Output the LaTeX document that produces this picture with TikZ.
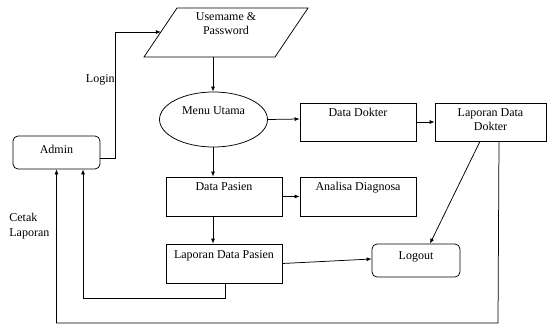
\documentclass[tikz,border=0pt]{standalone}
\usepackage{fontspec}
\setmainfont{Liberation Serif}
\usetikzlibrary{arrows.meta,shapes.geometric}
\begin{document}
\begin{tikzpicture}[x=1pt,y=-1pt,
  font=\fontsize{12}{14.5}\selectfont,
  every path/.style={line width=0.75pt},
  box/.style={draw, rectangle, inner sep=0pt},
  rbox/.style={draw, rectangle, rounded corners=5pt, inner sep=0pt},
  lbl/.style={anchor=north, align=center, inner sep=0pt},
  arr/.style={-{Latex[length=5pt,width=4pt]}}]
\useasboundingbox (0,0) rectangle (547,327);
% parallelogram
\draw (144,57) -- (177,8) -- (308,8) -- (275,57) -- cycle;
\coordinate (pwin) at (160.8,32);
\coordinate (pwout) at (213,57);
\node[lbl] (pwt) at (226,12) {Usemame \&\\Password};
% nodes
\node[rbox, minimum width=87pt, minimum height=33pt] (admin) at (56.5,152.5) {};
\node[anchor=center] (admint) at (56.5,149) {Admin};
\node[draw, ellipse, minimum width=108pt, minimum height=55pt, inner sep=0pt] (menu) at (213.5,119.5) {};
\node[anchor=center] (menut) at (213.5,111) {Menu Utama};
\node[box, minimum width=116pt, minimum height=38pt] (dd) at (358,122) {};
\node[lbl] (ddt) at (358,108) {Data Dokter};
\node[box, minimum width=111pt, minimum height=38pt] (ldd) at (490.5,122) {};
\node[lbl] (lddt) at (490.5,108) {Laporan Data\\Dokter};
\node[box, minimum width=116pt, minimum height=39pt] (dp) at (224,196.5) {};
\node[lbl] (dpt) at (224,182) {Data Pasien};
\node[box, minimum width=116pt, minimum height=39pt] (ad) at (358,196.5) {};
\node[lbl] (adt) at (358,182) {Analisa Diagnosa};
\node[box, minimum width=116pt, minimum height=39pt] (ldp) at (224,263.5) {};
\node[lbl] (ldpt) at (224,250) {Laporan Data Pasien};
\node[rbox, minimum width=88pt, minimum height=33pt] (logout) at (416,260.5) {};
\node[anchor=center] (logoutt) at (416,257) {Logout};
% labels
\node[anchor=east, inner sep=0pt] (login) at (115,80) {Login};
\node[anchor=west, align=left, inner sep=0pt] (cetak) at (9,226) {Cetak\\Laporan};
% connectors
\draw[arr] ([yshift=-5.5pt]admin.east) -- ++(15,0) |- (pwin);
\draw[arr] (pwout) -- (pwout |- menu.north);
\draw[arr] (menu.east) -- ([yshift=3pt]dd.west);
\draw[arr] (dd.east) -- (ldd.west);
\draw[arr] ([xshift=-10.5pt]ldd.south) -- ([xshift=14pt]logout.north);
\coordinate (c1) at (498,323);
\draw[arr] ([xshift=8.5pt]ldd.south) -- (c1) -| (admin.south);
\draw[arr] (pwout |- menu.south) -- (pwout |- dp.north);
\draw[arr] (dp.east) -- (ad.west);
\draw[arr] (pwout |- dp.south) -- (pwout |- ldp.north);
\draw[arr] (ldp.east) -- ([yshift=1.5pt]logout.west);
\draw[arr] ([xshift=1pt]ldp.south) -- ++(0,15) -| ([xshift=26.5pt]admin.south);
\end{tikzpicture}
\end{document}
